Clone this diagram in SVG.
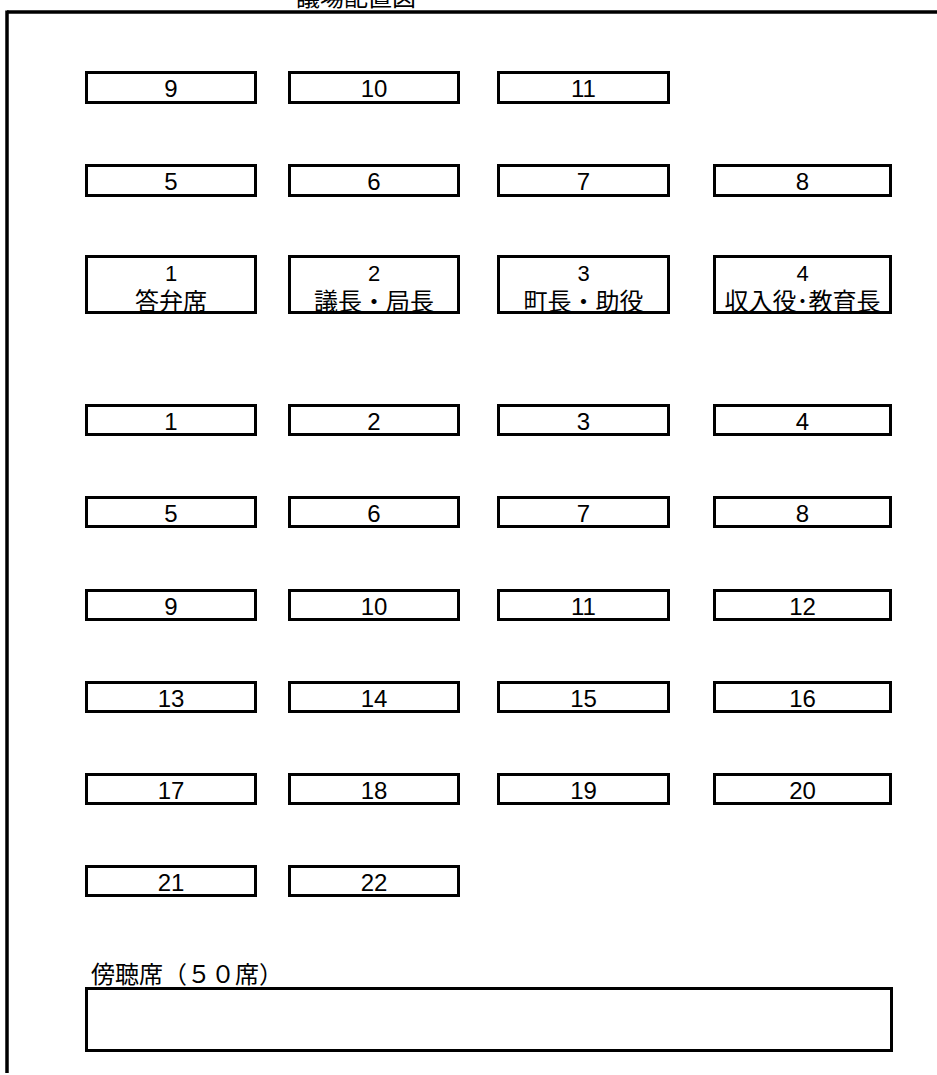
<svg xmlns="http://www.w3.org/2000/svg" width="937" height="1075" viewBox="0 0 937 1075">
<style>
.seat{fill:#fff;stroke:#000;stroke-width:3}
.num{font-family:"Liberation Sans",Arial,sans-serif;font-size:24px;fill:#000;text-anchor:middle}
.num2{font-family:"Liberation Sans",Arial,sans-serif;font-size:22px;fill:#000;text-anchor:middle}
.jp{font-family:"Liberation Sans","Noto Sans CJK JP",sans-serif;font-size:24px;fill:#000;text-anchor:middle}
.frame{stroke:#000;stroke-width:3.5;fill:none}
</style>
<rect width="937" height="1075" fill="#fff"/>
<g id="frame">
<line class="frame" x1="7" y1="12" x2="937" y2="12"/>
<line class="frame" x1="7" y1="10.5" x2="7" y2="1073"/>
<text class="jp" x="356" y="6">議場配置図</text>
</g>
<g id="connectors"/>
<!-- upper rows -->
<g id="u9"><rect class="seat" x="86.5" y="72.5" width="169" height="30"/><text class="num" x="171" y="97">9</text></g>
<g id="u10"><rect class="seat" x="289.5" y="72.5" width="169" height="30"/><text class="num" x="374" y="97">10</text></g>
<g id="u11"><rect class="seat" x="498.5" y="72.5" width="170" height="30"/><text class="num" x="583.5" y="97">11</text></g>

<g id="u5"><rect class="seat" x="86.5" y="165.5" width="169" height="30"/><text class="num" x="171" y="190">5</text></g>
<g id="u6"><rect class="seat" x="289.5" y="165.5" width="169" height="30"/><text class="num" x="374" y="190">6</text></g>
<g id="u7"><rect class="seat" x="498.5" y="165.5" width="170" height="30"/><text class="num" x="583.5" y="190">7</text></g>
<g id="u8"><rect class="seat" x="714.5" y="165.5" width="176" height="30"/><text class="num" x="802.5" y="190">8</text></g>

<g id="e1"><rect class="seat" x="86.5" y="256.5" width="169" height="56"/><text class="num2" x="171" y="281">1</text><text class="jp" x="171" y="310">答弁席</text></g>
<g id="e2"><rect class="seat" x="289.5" y="256.5" width="169" height="56"/><text class="num2" x="374" y="281">2</text><text class="jp" x="374" y="310">議長・局長</text></g>
<g id="e3"><rect class="seat" x="498.5" y="256.5" width="170" height="56"/><text class="num2" x="583.5" y="281">3</text><text class="jp" x="583.5" y="310">町長・助役</text></g>
<g id="e4"><rect class="seat" x="714.5" y="256.5" width="176" height="56"/><text class="num2" x="802.5" y="281">4</text><text class="jp" x="802.5" y="310">収入役･教育長</text></g>

<!-- lower rows -->
<g id="l1"><rect class="seat" x="86.5" y="405.5" width="169" height="29"/><text class="num" x="171" y="430">1</text></g>
<g id="l2"><rect class="seat" x="289.5" y="405.5" width="169" height="29"/><text class="num" x="374" y="430">2</text></g>
<g id="l3"><rect class="seat" x="498.5" y="405.5" width="170" height="29"/><text class="num" x="583.5" y="430">3</text></g>
<g id="l4"><rect class="seat" x="714.5" y="405.5" width="176" height="29"/><text class="num" x="802.5" y="430">4</text></g>

<g id="l5"><rect class="seat" x="86.5" y="497.5" width="169" height="29"/><text class="num" x="171" y="522">5</text></g>
<g id="l6"><rect class="seat" x="289.5" y="497.5" width="169" height="29"/><text class="num" x="374" y="522">6</text></g>
<g id="l7"><rect class="seat" x="498.5" y="497.5" width="170" height="29"/><text class="num" x="583.5" y="522">7</text></g>
<g id="l8"><rect class="seat" x="714.5" y="497.5" width="176" height="29"/><text class="num" x="802.5" y="522">8</text></g>

<g id="l9"><rect class="seat" x="86.5" y="590.5" width="169" height="29"/><text class="num" x="171" y="615">9</text></g>
<g id="l10"><rect class="seat" x="289.5" y="590.5" width="169" height="29"/><text class="num" x="374" y="615">10</text></g>
<g id="l11"><rect class="seat" x="498.5" y="590.5" width="170" height="29"/><text class="num" x="583.5" y="615">11</text></g>
<g id="l12"><rect class="seat" x="714.5" y="590.5" width="176" height="29"/><text class="num" x="802.5" y="615">12</text></g>

<g id="l13"><rect class="seat" x="86.5" y="682.5" width="169" height="29"/><text class="num" x="171" y="707">13</text></g>
<g id="l14"><rect class="seat" x="289.5" y="682.5" width="169" height="29"/><text class="num" x="374" y="707">14</text></g>
<g id="l15"><rect class="seat" x="498.5" y="682.5" width="170" height="29"/><text class="num" x="583.5" y="707">15</text></g>
<g id="l16"><rect class="seat" x="714.5" y="682.5" width="176" height="29"/><text class="num" x="802.5" y="707">16</text></g>

<g id="l17"><rect class="seat" x="86.5" y="774.5" width="169" height="29"/><text class="num" x="171" y="799">17</text></g>
<g id="l18"><rect class="seat" x="289.5" y="774.5" width="169" height="29"/><text class="num" x="374" y="799">18</text></g>
<g id="l19"><rect class="seat" x="498.5" y="774.5" width="170" height="29"/><text class="num" x="583.5" y="799">19</text></g>
<g id="l20"><rect class="seat" x="714.5" y="774.5" width="176" height="29"/><text class="num" x="802.5" y="799">20</text></g>

<g id="l21"><rect class="seat" x="86.5" y="866.5" width="169" height="29"/><text class="num" x="171" y="891">21</text></g>
<g id="l22"><rect class="seat" x="289.5" y="866.5" width="169" height="29"/><text class="num" x="374" y="891">22</text></g>

<g id="gallery">
<text class="jp" x="91" y="983" style="text-anchor:start">傍聴席（５０席）</text>
<rect class="seat" x="86.5" y="988.5" width="805" height="62"/>
</g>
</svg>
